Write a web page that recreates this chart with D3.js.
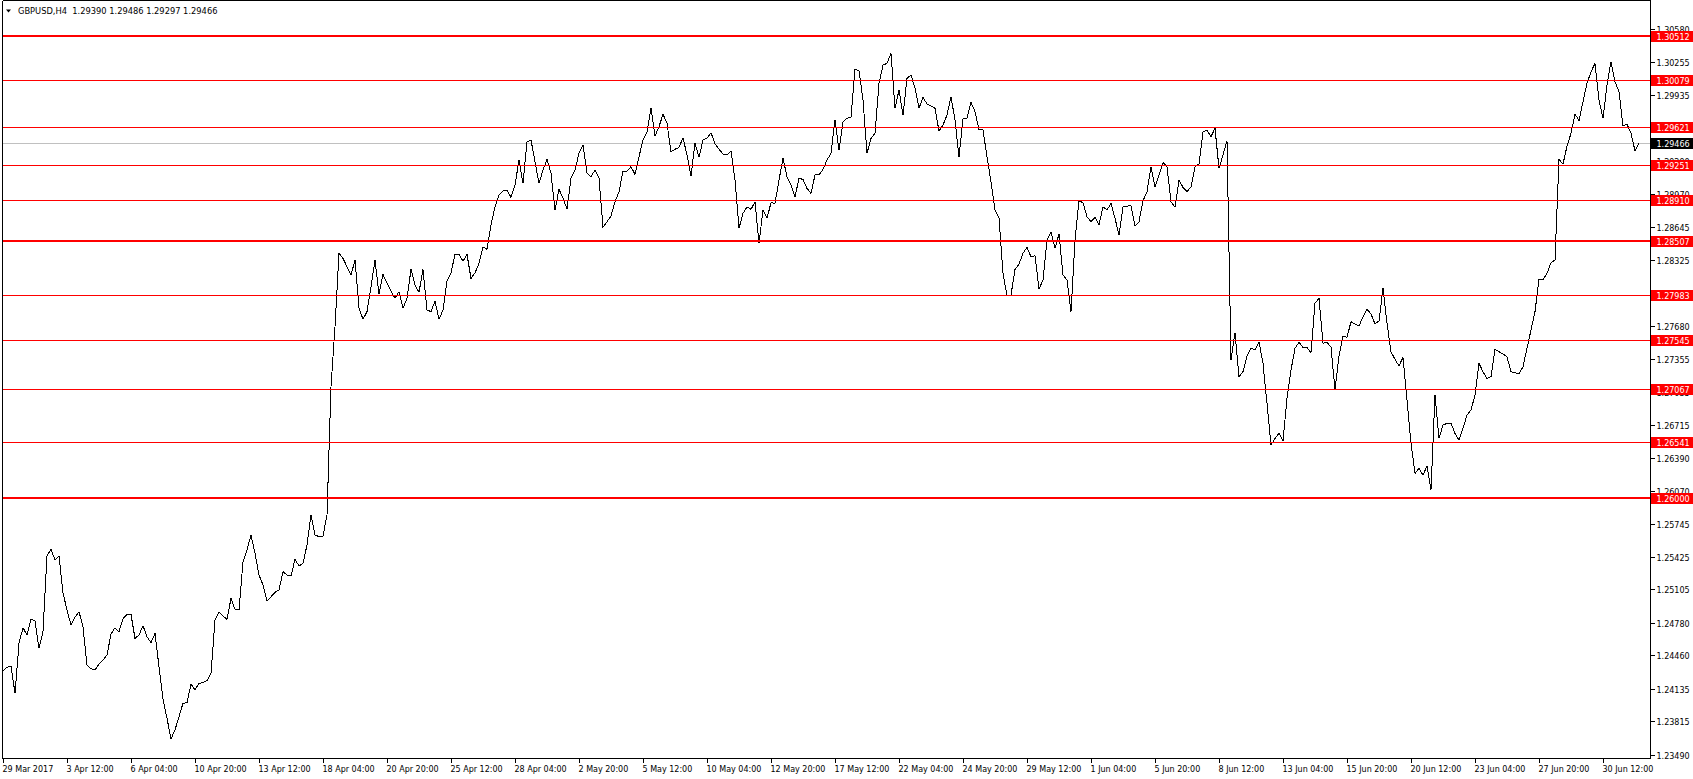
<!DOCTYPE html>
<html><head><meta charset="utf-8">
<script src="https://cdn.jsdelivr.net/npm/d3@7"></script>
<style>
html,body{margin:0;padding:0;background:#fff;overflow:hidden;}
svg{display:block;font-family:"DejaVu Sans",Verdana,sans-serif;}
</style></head><body>
<svg id="c" width="1693" height="779"></svg>
<script>
// ---- data (H4 closes, GBPUSD, 29 Mar 2017 -> 3 Jul 2017) ----
const closes = [
1.24309,1.24342,1.24355,1.24089,1.24577,1.24729,1.24658,1.24811,1.24798,1.24528,
1.24690,1.25433,1.25496,1.25391,1.25430,1.25071,1.24902,1.24756,1.24831,1.24886,
1.24739,1.24364,1.24328,1.24315,1.24374,1.24413,1.24462,1.24667,1.24729,1.24690,
1.24817,1.24860,1.24860,1.24625,1.24658,1.24749,1.24641,1.24582,1.24674,1.24348,
1.24030,1.23844,1.23642,1.23730,1.23860,1.23991,1.23997,1.24179,1.24121,1.24186,
1.24192,1.24212,1.24284,1.24804,1.24880,1.24844,1.24811,1.25017,1.24909,1.24902,
1.25375,1.25489,1.25636,1.25457,1.25245,1.25147,1.24990,1.25032,1.25075,1.25098,
1.25277,1.25245,1.25235,1.25398,1.25333,1.25359,1.25538,1.25831,1.25636,1.25620,
1.25626,1.25831,1.27085,1.27672,1.28389,1.28340,1.28258,1.28177,1.28323,1.27852,
1.27744,1.27819,1.28063,1.28323,1.27992,1.28183,1.28096,1.28021,1.27950,1.28014,
1.27852,1.27950,1.28232,1.28080,1.28008,1.28232,1.27835,1.27819,1.27923,1.27744,
1.27835,1.28122,1.28199,1.28379,1.28379,1.28313,1.28379,1.28144,1.28199,1.28291,
1.28453,1.28428,1.28666,1.28844,1.28956,1.29001,1.29008,1.28936,1.29057,1.29301,
1.29073,1.29480,1.29497,1.29285,1.29073,1.29203,1.29308,1.29171,1.28812,1.29015,
1.28927,1.28822,1.29122,1.29203,1.29367,1.29448,1.29171,1.29138,1.29203,1.29122,
1.28643,1.28698,1.28754,1.28893,1.28991,1.29191,1.29194,1.29236,1.29161,1.29333,
1.29497,1.29578,1.29807,1.29536,1.29627,1.29748,1.29660,1.29382,1.29406,1.29425,
1.29519,1.29350,1.29145,1.29465,1.29328,1.29497,1.29513,1.29568,1.29458,1.29406,
1.29360,1.29350,1.29389,1.29106,1.28633,1.28780,1.28844,1.28819,1.28893,1.28487,
1.28812,1.28731,1.28884,1.28878,1.29106,1.29318,1.29138,1.29057,1.28942,1.29122,
1.29112,1.29024,1.28975,1.29155,1.29155,1.29210,1.29301,1.29367,1.29692,1.29399,
1.29676,1.29709,1.29719,1.30187,1.30174,1.29888,1.29367,1.29513,1.29562,1.30051,
1.30229,1.30246,1.30344,1.29807,1.29986,1.29741,1.30099,1.30132,1.30002,1.29807,
1.29914,1.29849,1.29829,1.29807,1.29584,1.29643,1.29741,1.29920,1.29692,1.29333,
1.29702,1.29709,1.29866,1.29774,1.29600,1.29594,1.29333,1.29089,1.28812,1.28731,
1.28196,1.27972,1.27982,1.28232,1.28284,1.28389,1.28447,1.28355,1.28365,1.28041,
1.28129,1.28519,1.28600,1.28438,1.28578,1.28177,1.28129,1.27819,1.28519,1.28903,
1.28884,1.28747,1.28698,1.28741,1.28666,1.28844,1.28812,1.28878,1.28731,1.28568,
1.28844,1.28851,1.28854,1.28656,1.28698,1.28903,1.28991,1.29236,1.29040,1.29155,
1.29275,1.29236,1.28893,1.28839,1.29106,1.29034,1.28991,1.29040,1.29236,1.29262,
1.29578,1.29594,1.29529,1.29611,1.29220,1.29350,1.29489,1.27346,1.27613,1.27183,
1.27232,1.27385,1.27461,1.27444,1.27525,1.27314,1.26923,1.26515,1.26580,1.26629,
1.26554,1.26972,1.27249,1.27461,1.27519,1.27470,1.27470,1.27418,1.27901,1.27950,
1.27509,1.27519,1.27473,1.27053,1.27385,1.27581,1.27568,1.27721,1.27698,1.27679,
1.27770,1.27842,1.27796,1.27698,1.27728,1.28047,1.27705,1.27427,1.27353,1.27288,
1.27373,1.26955,1.26531,1.26238,1.26287,1.26222,1.26310,1.26076,1.27004,1.26580,
1.26710,1.26727,1.26727,1.26629,1.26564,1.26678,1.26808,1.26857,1.27004,1.27314,
1.27232,1.27167,1.27183,1.27451,1.27427,1.27405,1.27378,1.27232,1.27222,1.27209,
1.27281,1.27461,1.27640,1.27819,1.28135,1.28129,1.28193,1.28297,1.28323,1.29308,
1.29262,1.29438,1.29562,1.29751,1.29686,1.29871,1.30051,1.30164,1.30246,1.29888,
1.29709,1.30035,1.30262,1.30067,1.29969,1.29633,1.29653,1.29562,1.29392,1.29466
];
const timeLabels = ["29 Mar 2017","3 Apr 12:00","6 Apr 04:00","10 Apr 20:00","13 Apr 12:00","18 Apr 04:00","20 Apr 20:00","25 Apr 12:00","28 Apr 04:00","2 May 20:00","5 May 12:00","10 May 04:00","12 May 20:00","17 May 12:00","22 May 04:00","24 May 20:00","29 May 12:00","1 Jun 04:00","5 Jun 20:00","8 Jun 12:00","13 Jun 04:00","15 Jun 20:00","20 Jun 12:00","23 Jun 04:00","27 Jun 20:00","30 Jun 12:00"];
const timeLabelBars = [0,16,32,48,64,80,96,112,128,144,160,176,192,208,224,240,256,272,288,304,320,336,352,368,384,400];
const priceTicks = ["1.30580","1.30255","1.29935","1.29615","1.29290","1.28970","1.28645","1.28325","1.28000","1.27680","1.27355","1.27035","1.26715","1.26390","1.26070","1.25745","1.25425","1.25105","1.24780","1.24460","1.24135","1.23815","1.23490"];
const levels = [1.30512,1.30079,1.29621,1.29251,1.28910,1.28507,1.27983,1.27545,1.27067,1.26541,1.26000];
const levelBold = [true,false,false,false,false,true,false,false,false,false,true];
const lastPrice = 1.29466;
const symbolText = "GBPUSD,H4";
const ohlcText = ["1.29390","1.29486","1.29297","1.29466"];

// ---- layout ----
const W = 1693, H = 779;
const plotL = 2.5, plotR = 1650.5, plotB = 758.5, plotT = 0.5;
const svg = d3.select("#c");
svg.append("rect").attr("width",W).attr("height",H).attr("fill","#fff");

const x = d3.scaleLinear().domain([0, closes.length-1]).range([3, 3 + 4*(closes.length-1)]);
const y = d3.scaleLinear().domain([1.2349, 1.3058]).range([754.5, 29.2]);

const fmt = d3.format(".5f");
const crisp = v => Math.round(v) + 0.5;

// current price grey line
svg.append("line").attr("x1",plotL).attr("x2",plotR).attr("y1",crisp(y(lastPrice))).attr("y2",crisp(y(lastPrice)))
  .attr("stroke","#c0c0c0").attr("stroke-width",1).attr("shape-rendering","crispEdges");

// price line
svg.append("path").datum(closes)
  .attr("d", d3.line().x((d,i)=>x(i)).y(d=>y(d)))
  .attr("fill","none").attr("stroke","#000").attr("stroke-width",1)
  .attr("shape-rendering","crispEdges");

// level lines
levels.forEach((v,i)=>{
  const yy = levelBold[i] ? Math.round(y(v)) : crisp(y(v));
  svg.append("line").attr("x1",plotL).attr("x2",plotR).attr("y1",yy).attr("y2",yy)
    .attr("stroke","#ff0000").attr("stroke-width",levelBold[i]?2:1).attr("shape-rendering","crispEdges");
});

// frame
const frame = svg.append("g").attr("stroke","#000").attr("stroke-width",1).attr("shape-rendering","crispEdges");
frame.append("line").attr("x1",plotL).attr("x2",plotL).attr("y1",plotT).attr("y2",plotB);
frame.append("line").attr("x1",plotL).attr("x2",plotR).attr("y1",plotT).attr("y2",plotT);
frame.append("line").attr("x1",plotL).attr("x2",plotR).attr("y1",plotB).attr("y2",plotB);
frame.append("line").attr("x1",plotR).attr("x2",plotR).attr("y1",plotT).attr("y2",plotB);

// title
svg.append("path").attr("d","M6,9.5 L11,9.5 L8.5,12.5 Z").attr("fill","#000");
svg.append("text").attr("x",18).attr("y",14).attr("font-size","8.3px").attr("fill","#000")
  .attr("xml:space","preserve").text(symbolText + "  " + ohlcText.join(" "));

// price axis ticks + labels
const pa = svg.append("g");
priceTicks.forEach(t=>{
  const yy = Math.round(y(+t));
  pa.append("line").attr("x1",plotR).attr("x2",plotR+4).attr("y1",yy+0.5).attr("y2",yy+0.5)
    .attr("stroke","#000").attr("shape-rendering","crispEdges");
  pa.append("text").attr("x",1656.5).attr("y",yy+3.5).attr("font-size","8px").attr("fill","#000").text(t);
});

// time axis ticks + labels
const ta = svg.append("g");
timeLabels.forEach((t,k)=>{
  const xx = Math.round(x(timeLabelBars[k])) + 0.5;
  ta.append("line").attr("x1",xx).attr("x2",xx).attr("y1",plotB).attr("y2",plotB+4)
    .attr("stroke","#000").attr("shape-rendering","crispEdges");
  ta.append("text").attr("x",xx-1).attr("y",771.5).attr("font-size","8px").attr("fill","#000").text(t);
});

// level price tags
levels.forEach(v=>{
  const yy = Math.round(y(v));
  svg.append("rect").attr("x",1651).attr("y",yy-5).attr("width",42).attr("height",11).attr("fill","#ff0000");
  svg.append("text").attr("x",1656.5).attr("y",yy+3.5).attr("font-size","8px").attr("fill","#fff").text(fmt(v));
});
// last price tag
{
  const yy = Math.round(y(lastPrice));
  svg.append("rect").attr("x",1651).attr("y",yy-5).attr("width",42).attr("height",11).attr("fill","#000");
  svg.append("text").attr("x",1656.5).attr("y",yy+3.5).attr("font-size","8px").attr("fill","#fff").text(fmt(lastPrice));
}
</script>
</body></html>
